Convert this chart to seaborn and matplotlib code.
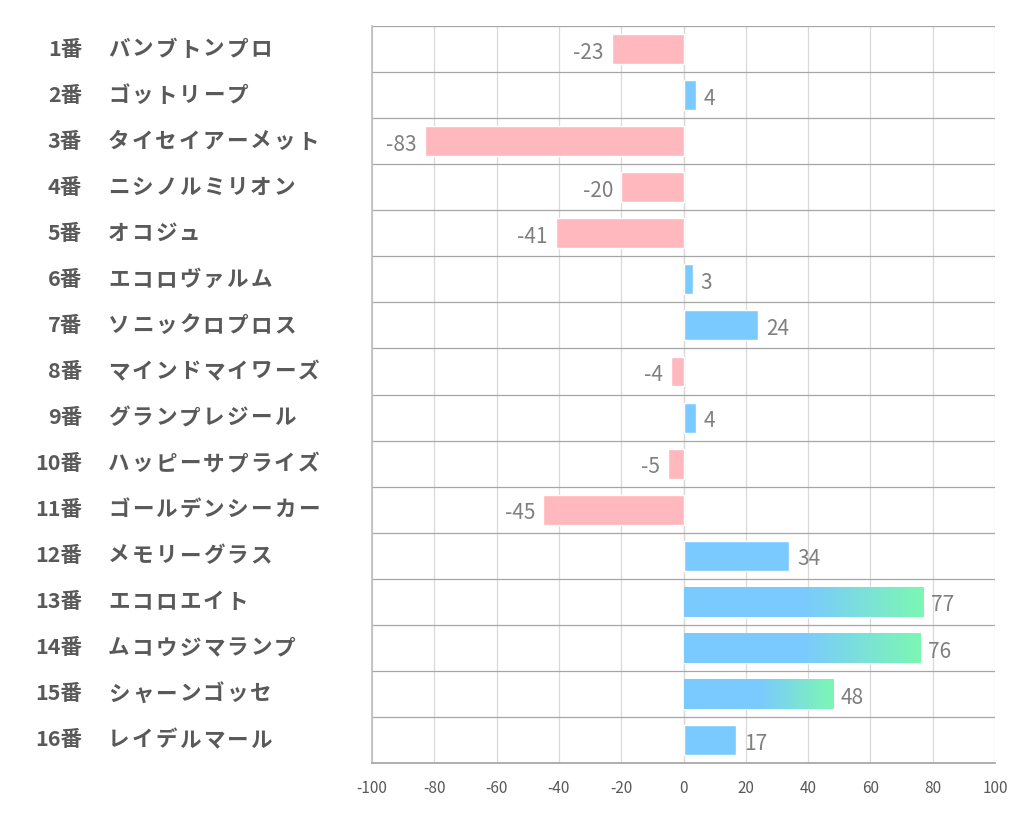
import numpy as np
import pandas as pd
import matplotlib
matplotlib.use("Agg")
import matplotlib.pyplot as plt
import matplotlib.transforms as mtransforms
from matplotlib.colors import LinearSegmentedColormap
import seaborn as sns

# data
numbers = ["1番", "2番", "3番", "4番", "5番", "6番", "7番", "8番",
           "9番", "10番", "11番", "12番", "13番", "14番", "15番", "16番"]
horses = ["バンブトンプロ", "ゴットリープ", "タイセイアーメット", "ニシノルミリオン",
          "オコジュ", "エコロヴァルム", "ソニックロプロス", "マインドマイワーズ",
          "グランプレジール", "ハッピーサプライズ", "ゴールデンシーカー", "メモリーグラス",
          "エコロエイト", "ムコウジマランプ", "シャーンゴッセ", "レイデルマール"]
values = [-23, 4, -83, -20, -41, 3, 24, -4, 4, -5, -45, 34, 77, 76, 48, 17]
gradient = [False] * 12 + [True, True, True, False]

PINK = "#FFB8BE"
BLUE = "#7ACAFF"
GREEN = "#7CF7B3"

sns.set_theme(style="white")
plt.rcParams["font.family"] = ["Noto Sans CJK JP", "DejaVu Sans"]

df = pd.DataFrame({"horse": horses, "value": values})
df["sign"] = np.where(df["value"] < 0, "neg", "pos")

fig = plt.figure(figsize=(10.22, 8.34), dpi=100)
ax = fig.add_axes([0.364, 0.0851, 0.6096, 0.8837])

sns.barplot(data=df, x="value", y="horse", hue="sign", order=horses,
            palette={"neg": PINK, "pos": BLUE}, dodge=False, legend=False,
            width=0.65, orient="h", ax=ax, saturation=1)

# gradient overlay on the last part of some bars
cmap = LinearSegmentedColormap.from_list("bg", [BLUE, BLUE, GREEN])
grad = np.linspace(0, 1, 256).reshape(1, -1)
for p in list(ax.patches):
    yc = p.get_y() + p.get_height() / 2
    idx = int(round(yc))
    if 0 <= idx < len(gradient) and gradient[idx] and p.get_width() > 0:
        x0, w = p.get_x(), p.get_width()
        im = ax.imshow(grad, cmap=cmap, aspect="auto", zorder=p.get_zorder() + 0.1,
                       extent=[x0, x0 + w, p.get_y() + p.get_height(), p.get_y()])
        im.set_clip_path(p)

ax.set_xlim(-100, 100)
ax.set_ylim(len(horses) - 0.5, -0.5)
ax.set_xticks(np.arange(-100, 101, 20))
ax.set_xticklabels([str(t) for t in range(-100, 101, 20)])
ax.set_yticks(np.arange(-0.5, len(horses), 1))
ax.set_yticklabels([])
ax.tick_params(axis="y", length=0)
ax.tick_params(axis="x", length=0, labelsize=11, labelcolor="#595959", pad=12)
ax.set_xlabel("")
ax.set_ylabel("")

ax.grid(axis="x", color="#D9D9D9", linewidth=0.9)
ax.grid(axis="y", color="#A6A6A6", linewidth=0.9)
ax.set_axisbelow(True)
for s in ["top", "right"]:
    ax.spines[s].set_visible(False)
ax.spines["left"].set_color("#BFBFBF")
ax.spines["bottom"].set_color("#A6A6A6")
ax.axvline(0, color="#D9D9D9", linewidth=0.9, zorder=0.5)

# value labels
for i, v in enumerate(values):
    if v < 0:
        ax.text(v - 2.6, i + 0.08, str(v), ha="right", va="center",
                fontsize=15, color="#7F7F7F")
    else:
        ax.text(v + 2.4, i + 0.08, str(v), ha="left", va="center",
                fontsize=15, color="#7F7F7F")

# row labels on the left, names drawn with wider letter spacing
trans = mtransforms.blended_transform_factory(fig.transFigure, ax.transData)
step = 23.7 * 72 / 100  # px -> points
for i, (n, h) in enumerate(zip(numbers, horses)):
    ax.text(82 / 1022, i, n, transform=trans, ha="right", va="center",
            fontsize=15.5, fontweight="bold", color="#595959", clip_on=False)
    for j, ch in enumerate(h):
        ax.annotate(ch, xy=(108 / 1022, i), xycoords=trans,
                    xytext=(j * step, 0), textcoords="offset points",
                    ha="left", va="center", fontsize=15.5, fontweight="bold",
                    color="#595959", annotation_clip=False)

fig.savefig("out.png", dpi=100, facecolor="white")
